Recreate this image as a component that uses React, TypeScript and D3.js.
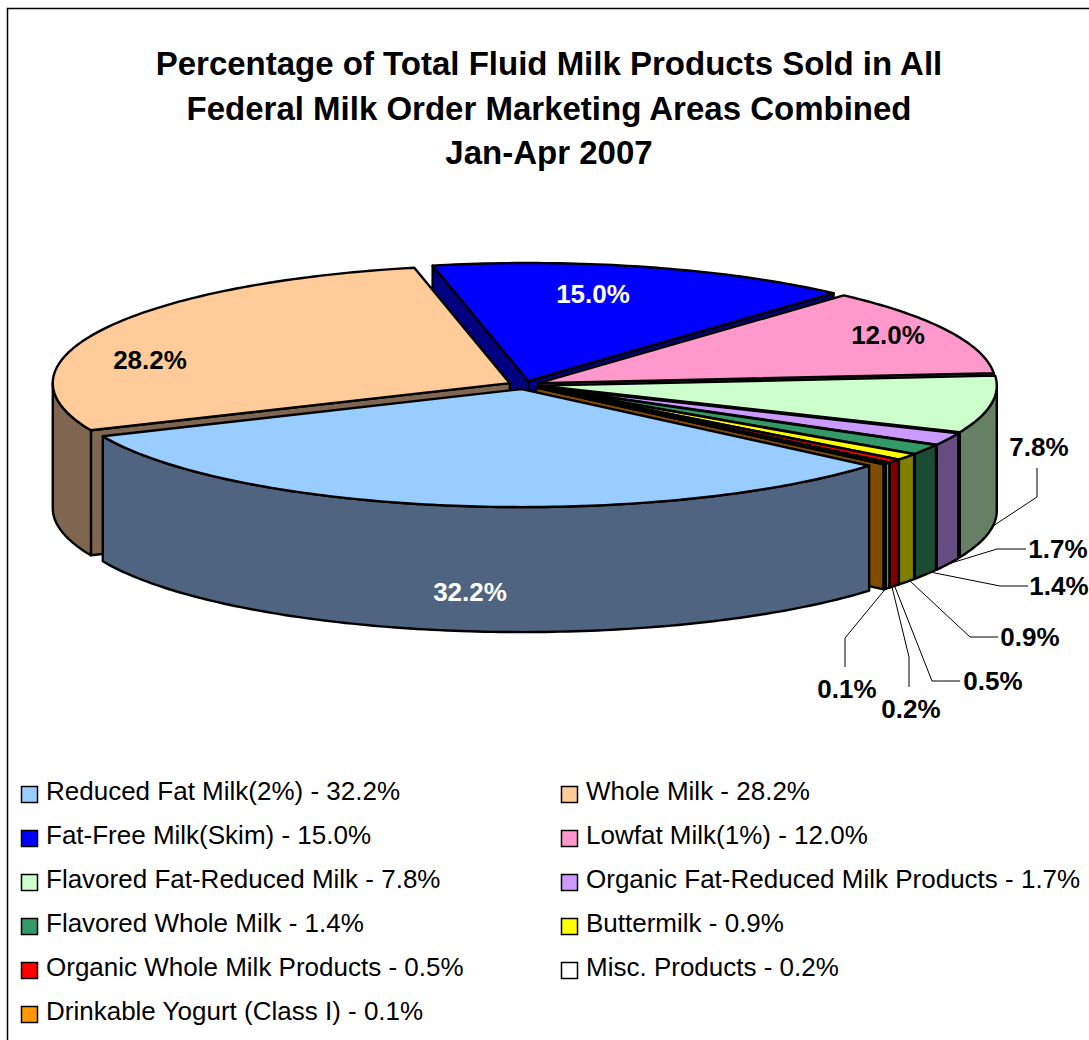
import React, { useEffect, useRef } from 'react';
import * as d3 from 'd3';

const titleLines = [
  'Percentage of Total Fluid Milk Products Sold in All',
  'Federal Milk Order Marketing Areas Combined',
  'Jan-Apr 2007',
];

const categories = [
  'Reduced Fat Milk(2%)',
  'Whole Milk',
  'Fat-Free Milk(Skim)',
  'Lowfat Milk(1%)',
  'Flavored Fat-Reduced Milk',
  'Organic Fat-Reduced Milk Products',
  'Flavored Whole Milk',
  'Buttermilk',
  'Organic Whole Milk Products',
  'Misc. Products',
  'Drinkable Yogurt (Class I)',
];
const values = [32.2, 28.2, 15.0, 12.0, 7.8, 1.7, 1.4, 0.9, 0.5, 0.2, 0.1];

const topColors = ['#99CCFF', '#FFCC99', '#0000FF', '#FF99CC', '#CCFFCC', '#CC99FF', '#339966', '#FFFF00', '#FF0000', '#FFFFFF', '#FF9900'];
const wallColors = ['#4F6480', '#806650', '#000080', '#804C66', '#668066', '#664C80', '#1A4C33', '#808000', '#800000', '#808080', '#804C00'];

// painter's order, back of the pie first
const drawOrder = [2, 3, 4, 5, 6, 7, 8, 9, 10, 1, 0];

// label centres and leader elbows, by slice index
const insideLabels: [number, number, number, string][] = [
  [0, 470, 592, '#fff'],
  [1, 150, 360, '#000'],
  [2, 593, 294, '#fff'],
  [3, 888, 335, '#000'],
];
const calloutLabels: [number, number, number, number[][]][] = [
  [4, 1039, 447, [[1037, 468], [1037, 497], [993, 526]]],
  [5, 1058, 549, [[1026, 549], [997, 549], [948, 564]]],
  [6, 1059, 586, [[1028, 586], [1000, 586], [930, 572]]],
  [7, 1030, 637, [[998, 637], [970, 637], [910, 581]]],
  [8, 993, 681, [[960, 681], [932, 681], [895, 587]]],
  [9, 911, 709, [[909, 687], [909, 657], [892, 587]]],
  [10, 847, 689, [[845, 667], [845, 638], [887, 587]]],
];

const WIDTH = 1089;
const HEIGHT = 1040;
const FONT = '"Liberation Sans", Arial, sans-serif';

const App = () => {
  const svgRef = useRef<SVGSVGElement>(null);

  useEffect(() => {
    const svg = d3.select(svgRef.current);
    svg.selectAll('*').remove();

    svg.append('rect')
      .attr('x', 7.5).attr('y', 8.5)
      .attr('width', WIDTH).attr('height', HEIGHT)
      .attr('fill', '#fff').attr('stroke', '#000').attr('stroke-width', 1.5);

    svg.selectAll('.title')
      .data(titleLines)
      .enter().append('text')
      .attr('x', 549)
      .attr('y', (d, i) => 75 + i * 44.5)
      .attr('text-anchor', 'middle')
      .style('font', `bold 33px ${FONT}`)
      .text(d => d);

    const cx = 524, cy = 385, rx = 457, ry = 118, depth = 125, explode = 16;
    const yScale = ry / rx;

    const arcs = d3.pie<number>().sort(null).value(d => d)
      .startAngle((130.5 * Math.PI) / 180)
      .endAngle((490.5 * Math.PI) / 180)(values);

    // angle is clockwise from 12 o'clock, as d3.pie gives it
    const apex = (a: (typeof arcs)[number]) => {
      const mid = (a.startAngle + a.endAngle) / 2;
      return [cx + explode * Math.sin(mid), cy - explode * yScale * Math.cos(mid)];
    };
    const rim = (o: number[], t: number, dz = 0) => [o[0] + rx * Math.sin(t), o[1] - ry * Math.cos(t) + dz];
    const sample = (o: number[], t0: number, t1: number, dz = 0) => {
      const n = Math.max(2, Math.ceil(Math.abs(t1 - t0) * 60));
      return d3.range(n + 1).map(i => rim(o, t0 + ((t1 - t0) * i) / n, dz));
    };
    const line = d3.line().curve(d3.curveLinear);
    const closed = (pts: number[][]) => line(pts as [number, number][]) + 'Z';

    const pie = svg.append('g')
      .attr('stroke', '#000').attr('stroke-width', 2.4).attr('stroke-linejoin', 'round');

    drawOrder.forEach(i => {
      const a = arcs[i];
      const o = apex(a);
      const g = pie.append('g');
      const s = a.startAngle, e = a.endAngle;

      // radial walls
      if (Math.sin(s) < 0) {
        const p = rim(o, s);
        g.append('path').attr('fill', wallColors[i])
          .attr('d', closed([o, p, [p[0], p[1] + depth], [o[0], o[1] + depth]]));
      }
      if (Math.sin(e) > 0) {
        const p = rim(o, e);
        g.append('path').attr('fill', wallColors[i])
          .attr('d', closed([o, p, [p[0], p[1] + depth], [o[0], o[1] + depth]]));
      }

      // rim wall, only the part on the near side of the ellipse
      const turn = Math.floor(s / (2 * Math.PI)) * 2 * Math.PI;
      const lo = Math.max(s, turn + Math.PI / 2);
      const hi = Math.min(e, turn + (3 * Math.PI) / 2);
      if (hi > lo) {
        g.append('path').attr('fill', wallColors[i])
          .attr('d', closed([...sample(o, lo, hi), ...sample(o, hi, lo, depth)]));
      }

      // top
      g.append('path').attr('fill', topColors[i])
        .attr('d', closed([o, ...sample(o, s, e)]));
    });

    svg.append('g').selectAll('polyline')
      .data(calloutLabels)
      .enter().append('polyline')
      .attr('points', d => d[3].join(' '))
      .attr('fill', 'none').attr('stroke', '#000').attr('stroke-width', 1);

    const pct = (i: number) => `${values[i].toFixed(1)}%`;
    const labels = svg.append('g')
      .attr('text-anchor', 'middle')
      .style('font', `bold 26px ${FONT}`);
    insideLabels.forEach(([i, x, y, fill]) => {
      labels.append('text').attr('x', x).attr('y', y).attr('dy', '0.36em').attr('fill', fill).text(pct(i));
    });
    calloutLabels.forEach(([i, x, y]) => {
      labels.append('text').attr('x', x).attr('y', y).attr('dy', '0.36em').attr('fill', '#000').text(pct(i));
    });

    // legend fills across then down
    const colX = d3.scaleOrdinal<number, number>().domain([0, 1]).range([21, 561]);
    const rowY = d3.scaleLinear().domain([0, 5]).range([791, 1011]);
    const legend = svg.append('g').selectAll('g')
      .data(categories)
      .enter().append('g')
      .attr('transform', (d, i) => `translate(${colX(i % 2)},${rowY(Math.floor(i / 2))})`);
    legend.append('rect')
      .attr('x', 0.5).attr('y', -4.5).attr('width', 16).attr('height', 16)
      .attr('fill', (d, i) => topColors[i])
      .attr('stroke', '#000').attr('stroke-width', 1.5);
    legend.append('text')
      .attr('x', 25).attr('dy', '0.36em')
      .style('font', `26px ${FONT}`)
      .text((d, i) => `${d} - ${pct(i)}`);
  }, []);

  return (
    <svg
      ref={svgRef}
      width={WIDTH}
      height={HEIGHT}
      style={{ position: 'absolute', left: 0, top: 0, display: 'block' }}
    />
  );
};

export default App;
